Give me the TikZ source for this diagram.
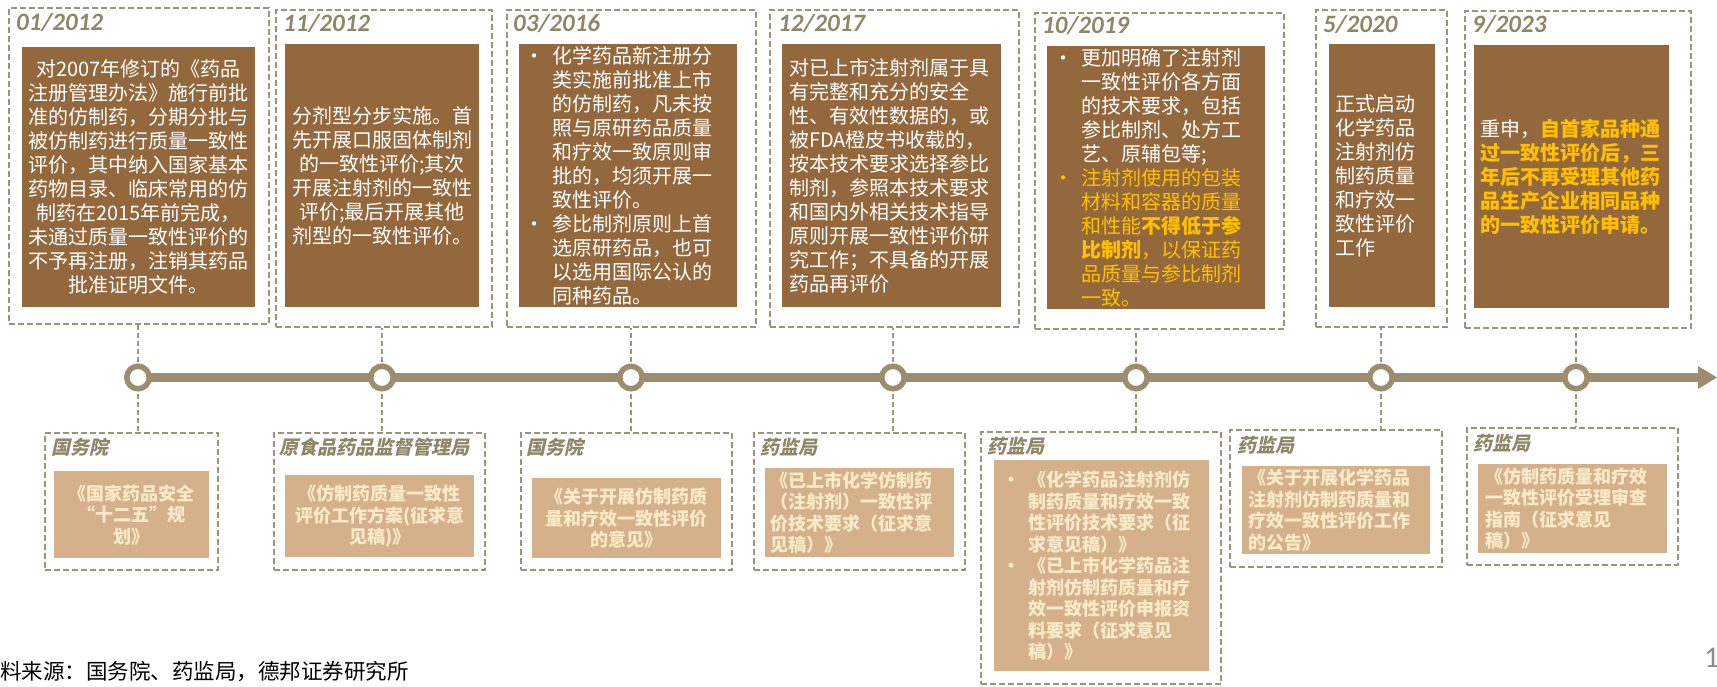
\documentclass[tikz,border=0pt]{standalone}
\usepackage{fontspec}
\setmainfont{Noto Sans CJK SC}
\newfontfamily\orgfont{Noto Sans CJK SC}[FakeSlant=0.22, BoldFeatures={FakeSlant=0.22}]
\newfontfamily\datefont{Carlito}
\definecolor{brownc}{HTML}{93683D}
\definecolor{tanc}{HTML}{D4B18A}
\definecolor{creamc}{HTML}{FAEBC8}
\definecolor{linec}{HTML}{9B8D6D}
\definecolor{dashc}{HTML}{9C9379}
\definecolor{datec}{HTML}{8E8769}
\definecolor{hl}{HTML}{FFC000}
\definecolor{pagec}{HTML}{8C8C8C}
\newcommand{\bul}[1]{\makebox[#1][l]{•}}
\newcommand{\ind}[1]{\hspace*{#1}}
\tikzset{
  outerbox/.style={draw=dashc, line width=2pt, dash pattern=on 6pt off 3pt, anchor=north west, inner sep=0pt},
  brownbox/.style={fill=brownc, text=white, anchor=north west, inner ysep=0pt, font=\fontsize{20}{24}\selectfont},
  tanbox/.style={fill=tanc, text=creamc, anchor=north west, inner ysep=0pt, font=\bfseries\fontsize{18}{21.5}\selectfont},
  datelab/.style={anchor=west, text=datec, font=\datefont\bfseries\itshape\fontsize{25}{25}\selectfont, inner sep=0pt},
  orglab/.style={anchor=west, text=datec, font=\orgfont\bfseries\fontsize{19}{19}\selectfont, inner sep=0pt},
  tlcircle/.style={circle, draw=linec, fill=white, line width=5.5pt, minimum size=22.5pt, inner sep=0pt},
  stub/.style={draw=dashc, line width=1.6pt, dash pattern=on 5pt off 3pt},
  timeline/.style={draw=linec, line width=9pt},
}
\begin{document}
\begin{tikzpicture}[x=1pt,y=-1pt]
\useasboundingbox (0,0) rectangle (1717,687);

% ---------- top outer boxes ----------
\node[outerbox, minimum width=260pt, minimum height=316pt] (t1) at (8,7) {};
\node[outerbox, minimum width=216pt, minimum height=317pt] (t2) at (275,9) {};
\node[outerbox, minimum width=249pt, minimum height=317pt] (t3) at (506,9) {};
\node[outerbox, minimum width=249pt, minimum height=317pt] (t4) at (769,9) {};
\node[outerbox, minimum width=249pt, minimum height=316pt] (t5) at (1034,12) {};
\node[outerbox, minimum width=131pt, minimum height=317pt] (t6) at (1315,9) {};
\node[outerbox, minimum width=226pt, minimum height=317pt] (t7) at (1464,10) {};

% ---------- dates ----------
\node[datelab] (d1) at (16,23) {01/2012};
\node[datelab] (d2) at (283,24) {11/2012};
\node[datelab] (d3) at (513,24) {03/2016};
\node[datelab] (d4) at (778,24) {12/2017};
\node[datelab] (d5) at (1042,26) {10/2019};
\node[datelab] (d6) at (1323,25) {5/2020};
\node[datelab] (d7) at (1472,25) {9/2023};

% ---------- top inner boxes ----------
\node[brownbox, minimum height=260pt, inner xsep=4pt, text width=225pt, align=center] (i1) at (22,47) {%
对2007年修订的《药品\\
注册管理办法》施行前批\\
准的仿制药，分期分批与\\
被仿制药进行质量一致性\\
评价，其中纳入国家基本\\
药物目录、临床常用的仿\\
制药在2015年前完成，\\
未通过质量一致性评价的\\
不予再注册，注销其药品\\
批准证明文件。};

\node[brownbox, minimum height=263pt, inner xsep=4pt, text width=186pt, align=center] (i2) at (285,44) {%
分剂型分步实施。首\\
先开展口服固体制剂\\
的一致性评价;其次\\
开展注射剂的一致性\\
评价;最后开展其他\\
剂型的一致性评价。};

\node[brownbox, minimum height=263pt, inner xsep=5pt, text width=208pt, align=left] (i3) at (519,44) {%
\bul{28pt}化学药品新注册分\\
\ind{28pt}类实施前批准上市\\
\ind{28pt}的仿制药，凡未按\\
\ind{28pt}照与原研药品质量\\
\ind{28pt}和疗效一致原则审\\
\ind{28pt}批的，均须开展一\\
\ind{28pt}致性评价。\\
\bul{28pt}参比制剂原则上首\\
\ind{28pt}选原研药品，也可\\
\ind{28pt}以选用国际公认的\\
\ind{28pt}同种药品。};

\node[brownbox, minimum height=263pt, inner xsep=7pt, text width=205pt, align=left] (i4) at (782,44) {%
对已上市注射剂属于具\\
有完整和充分的安全\\
性、有效性数据的，或\\
被FDA橙皮书收载的，\\
按本技术要求选择参比\\
制剂，参照本技术要求\\
和国内外相关技术指导\\
原则开展一致性评价研\\
究工作；不具备的开展\\
药品再评价};

\node[brownbox, minimum height=263pt, inner xsep=6pt, text width=206pt, align=left] (i5) at (1047,46) {%
\bul{28pt}更加明确了注射剂\\
\ind{28pt}一致性评价各方面\\
\ind{28pt}的技术要求，包括\\
\ind{28pt}参比制剂、处方工\\
\ind{28pt}艺、原辅包等;\\
{\color{hl}\bul{28pt}注射剂使用的包装}\\
\ind{28pt}{\color{hl}材料和容器的质量}\\
\ind{28pt}{\color{hl}和性能\textbf{不得低于参}}\\
\ind{28pt}{\color{hl}\textbf{比制剂}，以保证药}\\
\ind{28pt}{\color{hl}品质量与参比制剂}\\
\ind{28pt}{\color{hl}一致。}};

\node[brownbox, minimum height=263pt, inner xsep=6pt, text width=94pt, align=left] (i6) at (1329,44) {%
正式启动\\
化学药品\\
注射剂仿\\
制药质量\\
和疗效一\\
致性评价\\
工作};

\node[brownbox, minimum height=263pt, inner xsep=6pt, text width=183pt, align=left] (i7) at (1474,45) {%
重申，{\bfseries\color{hl}自首家品种通}\\
{\bfseries\color{hl}过一致性评价后，三}\\
{\bfseries\color{hl}年后不再受理其他药}\\
{\bfseries\color{hl}品生产企业相同品种}\\
{\bfseries\color{hl}的一致性评价申请。}};

% ---------- timeline ----------
\coordinate (p1) at (138,377.5);
\coordinate (p2) at (382,377.5);
\coordinate (p3) at (631,377.5);
\coordinate (p4) at (893,377.5);
\coordinate (p5) at (1136,377.5);
\coordinate (p6) at (1381,377.5);
\coordinate (p7) at (1576,377.5);
\coordinate (tipbase) at (1699,377.5);
\coordinate (tip) at (1717,377.5);
\draw[timeline] (p1) -- (tipbase);
\fill[linec] (1698,366) -- (tip) -- (1698,389) -- cycle;

% ---------- bottom outer boxes ----------
\node[outerbox, minimum width=173pt, minimum height=137pt] (b1) at (44,432) {};
\node[outerbox, minimum width=211pt, minimum height=137pt] (b2) at (273,432) {};
\node[outerbox, minimum width=211pt, minimum height=137pt] (b3) at (520,432) {};
\node[outerbox, minimum width=211pt, minimum height=137pt] (b4) at (753,432) {};
\node[outerbox, minimum width=240pt, minimum height=252pt] (b5) at (980,431) {};
\node[outerbox, minimum width=212pt, minimum height=137pt] (b6) at (1229,429) {};
\node[outerbox, minimum width=211pt, minimum height=137pt] (b7) at (1466,427) {};

% ---------- connectors ----------
\foreach \k in {1,...,7}{
  \draw[stub] (p\k) -- (p\k |- t\k.south);
  \draw[stub] (p\k) -- (p\k |- b\k.north);
}

% ---------- circles ----------
\foreach \k in {1,...,7}{
  \node[tlcircle] (c\k) at (p\k) {};
}

% ---------- organisation titles ----------
\node[orglab] (o1) at (51,447) {国务院};
\node[orglab] (o2) at (279,447) {原食品药品监督管理局};
\node[orglab] (o3) at (526,447) {国务院};
\node[orglab] (o4) at (760,447) {药监局};
\node[orglab] (o5) at (987,446) {药监局};
\node[orglab] (o6) at (1237,445) {药监局};
\node[orglab] (o7) at (1473,443) {药监局};

% ---------- bottom inner boxes ----------
\node[tanbox, minimum height=87pt, inner xsep=2pt, text width=151pt, align=center] (j1) at (54,471) {%
《国家药品安全\\
“十二五”规\\
划》};
\node[tanbox, minimum height=82pt, inner xsep=2pt, text width=185pt, align=center] (j2) at (285,475) {%
《仿制药质量一致性\\
评价工作方案(征求意\\
见稿)》};
\node[tanbox, minimum height=80pt, inner xsep=2pt, text width=185pt, align=center] (j3) at (532,478) {%
《关于开展仿制药质\\
量和疗效一致性评价\\
的意见》};
\node[tanbox, minimum height=89pt, inner xsep=5pt, text width=179pt, align=left] (j4) at (765,468) {%
《已上市化学仿制药\\
（注射剂）一致性评\\
价技术要求（征求意\\
见稿）》};
\node[tanbox, minimum height=211pt, inner xsep=8pt, text width=199pt, align=left] (j5) at (994,460) {%
\bul{26pt}《化学药品注射剂仿\\
\ind{26pt}制药质量和疗效一致\\
\ind{26pt}性评价技术要求（征\\
\ind{26pt}求意见稿）》\\
\bul{26pt}《已上市化学药品注\\
\ind{26pt}射剂仿制药质量和疗\\
\ind{26pt}效一致性评价申报资\\
\ind{26pt}料要求（征求意见\\
\ind{26pt}稿）》};
\node[tanbox, minimum height=88pt, inner xsep=6pt, text width=176pt, align=left] (j6) at (1242,466) {%
《关于开展化学药品\\
注射剂仿制药质量和\\
疗效一致性评价工作\\
的公告》};
\node[tanbox, minimum height=89pt, inner xsep=7pt, text width=175pt, align=left] (j7) at (1478,464) {%
《仿制药质量和疗效\\
一致性评价受理审查\\
指南（征求意见\\
稿）》};

% ---------- footer ----------
\node[anchor=west, inner sep=0pt, font=\fontsize{21.5}{21.5}\selectfont] (src) at (0,672) {料来源：国务院、药监局，德邦证券研究所};
\node[anchor=west, inner sep=0pt, text=pagec, font=\datefont\fontsize{30}{30}\selectfont] (pg) at (1704,658) {1};
\end{tikzpicture}
\end{document}
